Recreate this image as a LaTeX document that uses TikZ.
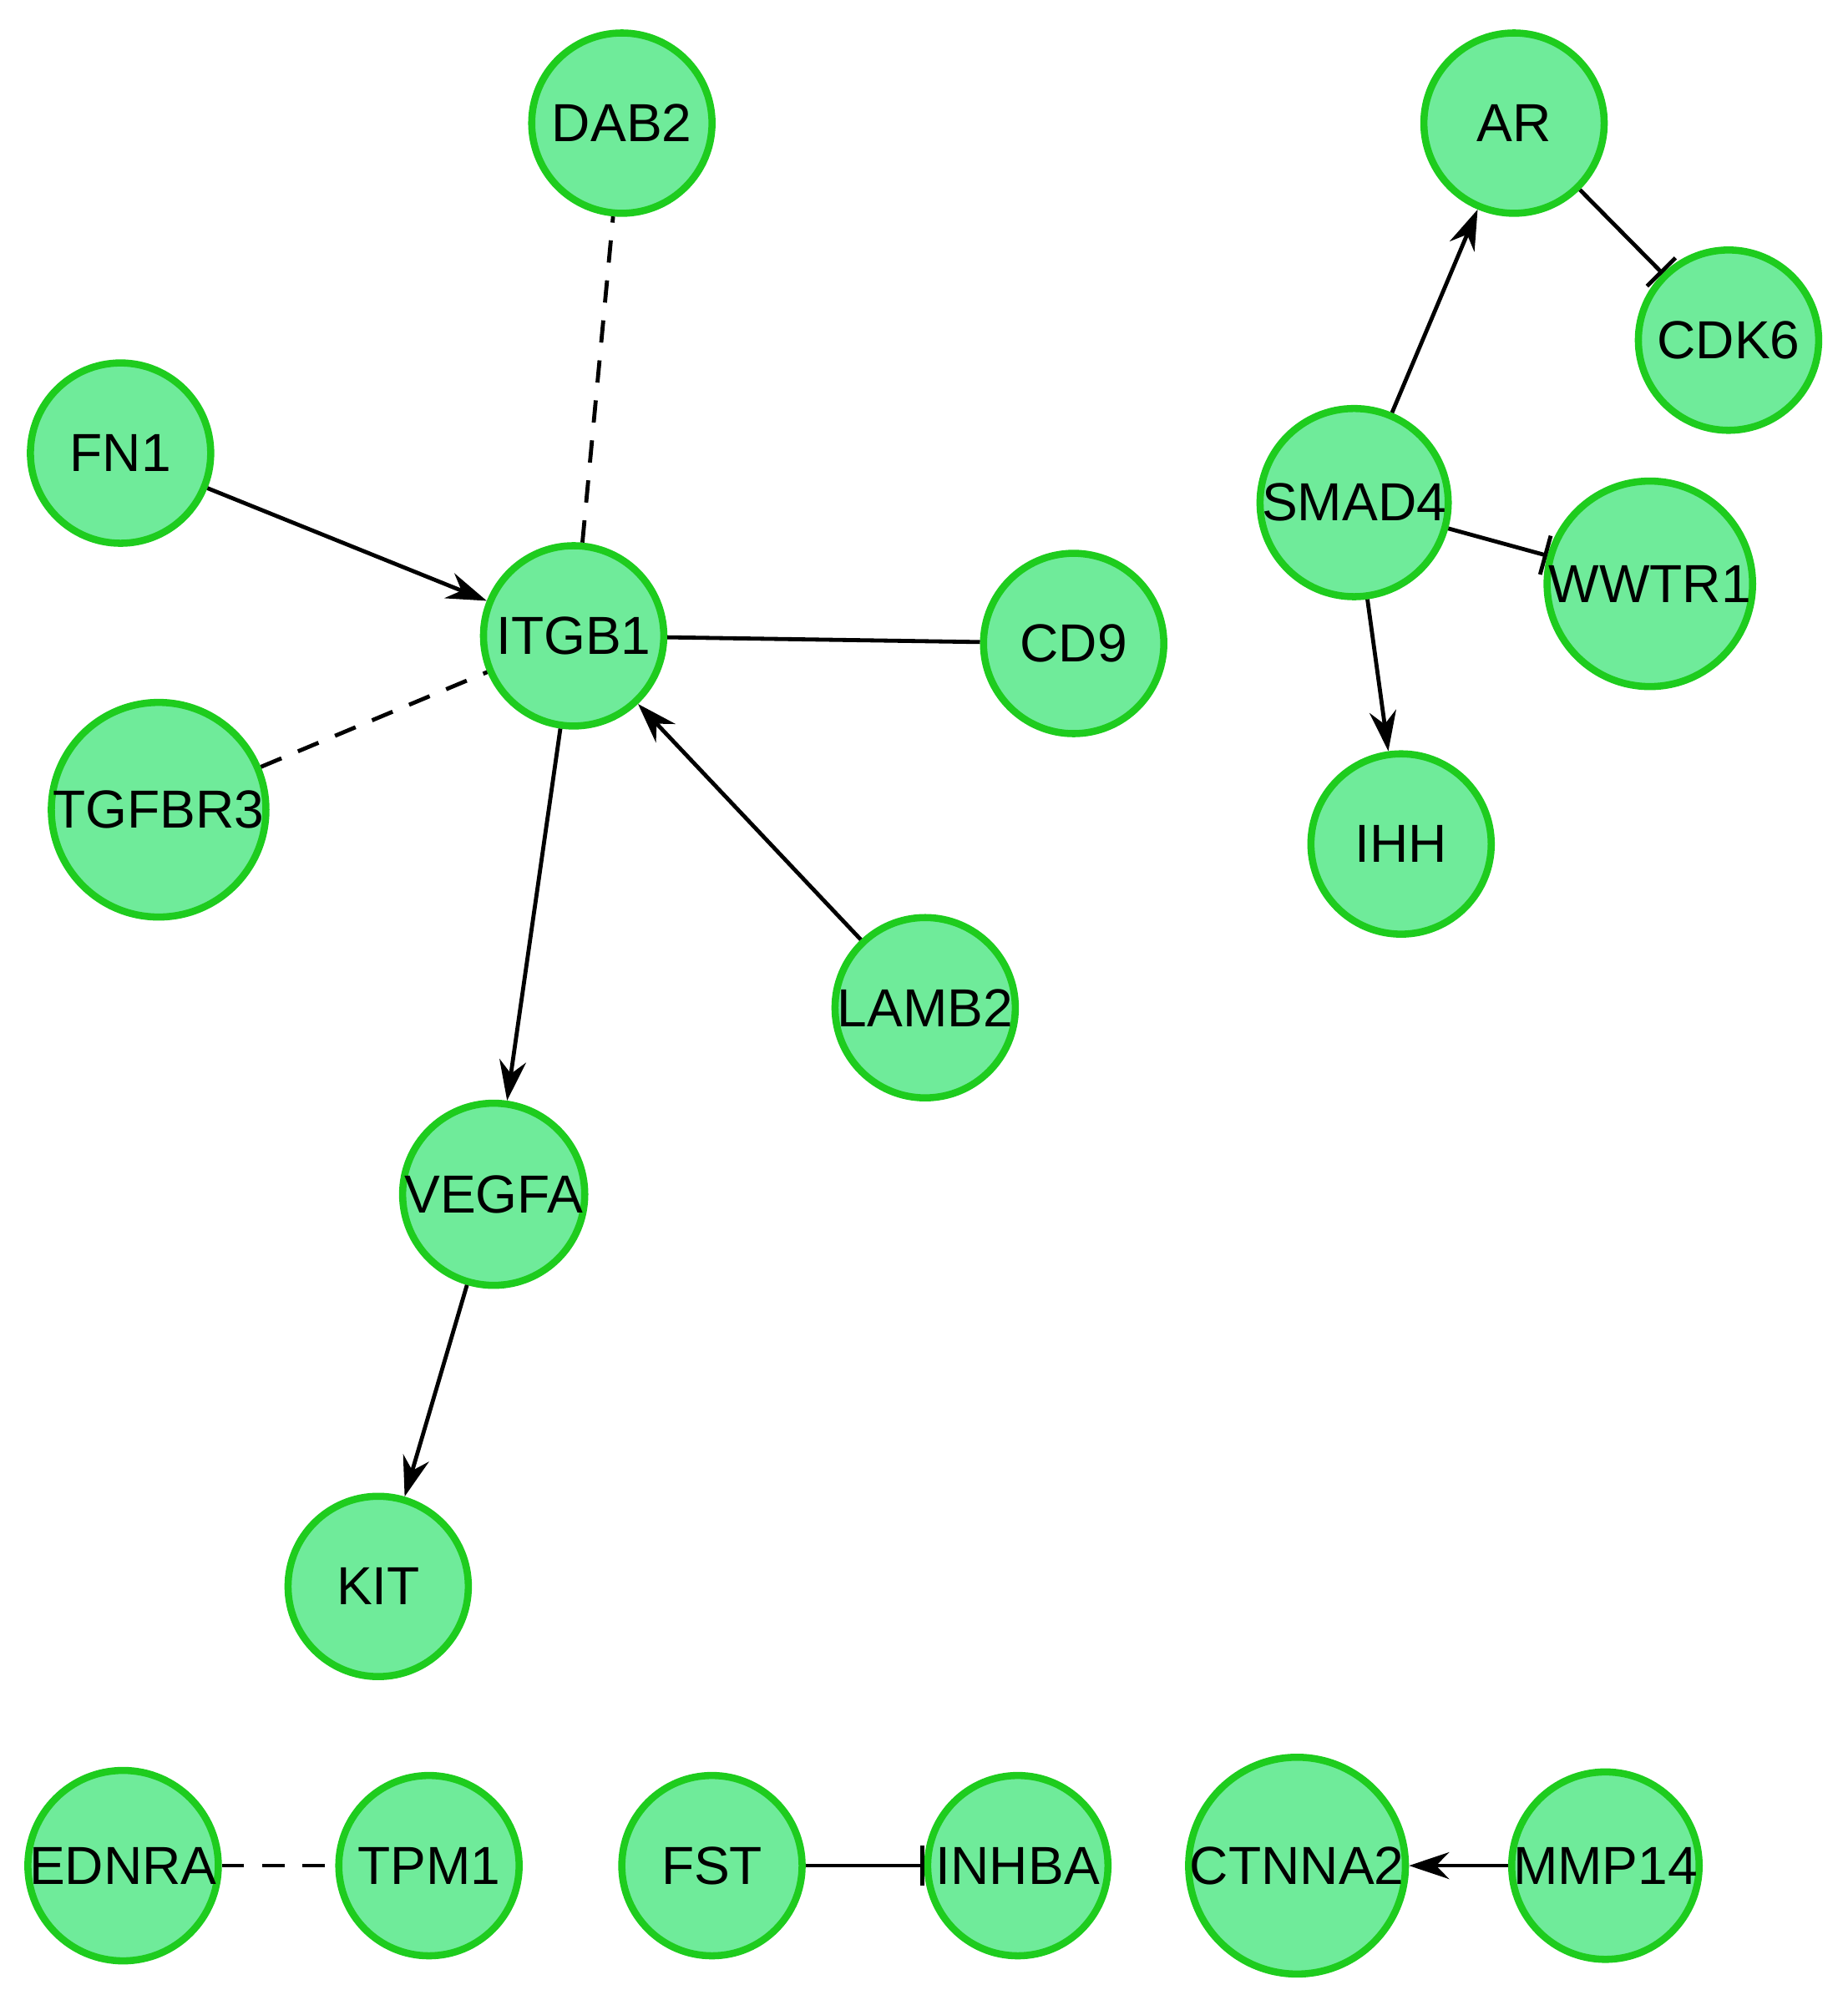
\documentclass[tikz,border=0pt]{standalone}
\usepackage{fontspec}
\setmainfont{Liberation Sans}
\usetikzlibrary{arrows.meta}
\definecolor{genefill}{HTML}{6FEB9A}
\definecolor{generim}{HTML}{1ECC1E}
\tikzset{gene/.style={circle,draw=generim,fill=genefill,line width=1.6pt,minimum size=1.42cm,inner sep=0pt,font=\large},
  act/.style={-{Stealth[length=9pt,width=6pt]},line width=0.9pt},
  inh/.style={-{Bar[width=9pt]},line width=0.9pt},
  assoc/.style={dashed,line width=0.9pt,dash pattern=on 5pt off 4pt},
  bind/.style={line width=0.9pt}}
\begin{document}
\begin{tikzpicture}[x=0.01cm,y=-0.01cm]
  \useasboundingbox (0,0) rectangle (1456,1568);

  \node[gene] (DAB2)   at (490,97)   {DAB2};
  \node[gene] (AR)     at (1193,97)  {AR};
  \node[gene] (CDK6)   at (1362,268) {CDK6};
  \node[gene] (FN1)    at (95,357)   {FN1};
  \node[gene] (SMAD4)  at (1067,396) {SMAD4};
  \node[gene] (WWTR1)  at (1300,460) {WWTR1};
  \node[gene] (ITGB1)  at (452,501)  {ITGB1};
  \node[gene] (CD9)    at (846,507)  {CD9};
  \node[gene] (TGFBR3) at (125,638)  {TGFBR3};
  \node[gene] (IHH)    at (1104,665) {IHH};
  \node[gene] (LAMB2)  at (729,794)  {LAMB2};
  \node[gene] (VEGFA)  at (389,941)  {VEGFA};
  \node[gene] (KIT)    at (298,1250) {KIT};
  \node[gene] (EDNRA)  at (97,1470)  {EDNRA};
  \node[gene] (TPM1)   at (338,1470) {TPM1};
  \node[gene] (FST)    at (561,1470) {FST};
  \node[gene] (INHBA)  at (802,1470) {INHBA};
  \node[gene] (CTNNA2) at (1022,1470) {CTNNA2};
  \node[gene] (MMP14)  at (1265,1470) {MMP14};

  \draw[assoc] (ITGB1) -- (DAB2);
  \draw[act]   (FN1) -- (ITGB1);
  \draw[assoc] (TGFBR3) -- (ITGB1);
  \draw[bind]  (ITGB1) -- (CD9);
  \draw[act]   (LAMB2) -- (ITGB1);
  \draw[act]   (ITGB1) -- (VEGFA);
  \draw[act]   (VEGFA) -- (KIT);
  \draw[act]   (SMAD4) -- (AR);
  \draw[inh]   (AR) -- (CDK6);
  \draw[inh]   (SMAD4) -- (WWTR1);
  \draw[act]   (SMAD4) -- (IHH);
  \draw[assoc] (EDNRA) -- (TPM1);
  \draw[inh]   (FST) -- (INHBA);
  \draw[act]   (MMP14) -- (CTNNA2);
\end{tikzpicture}
\end{document}
